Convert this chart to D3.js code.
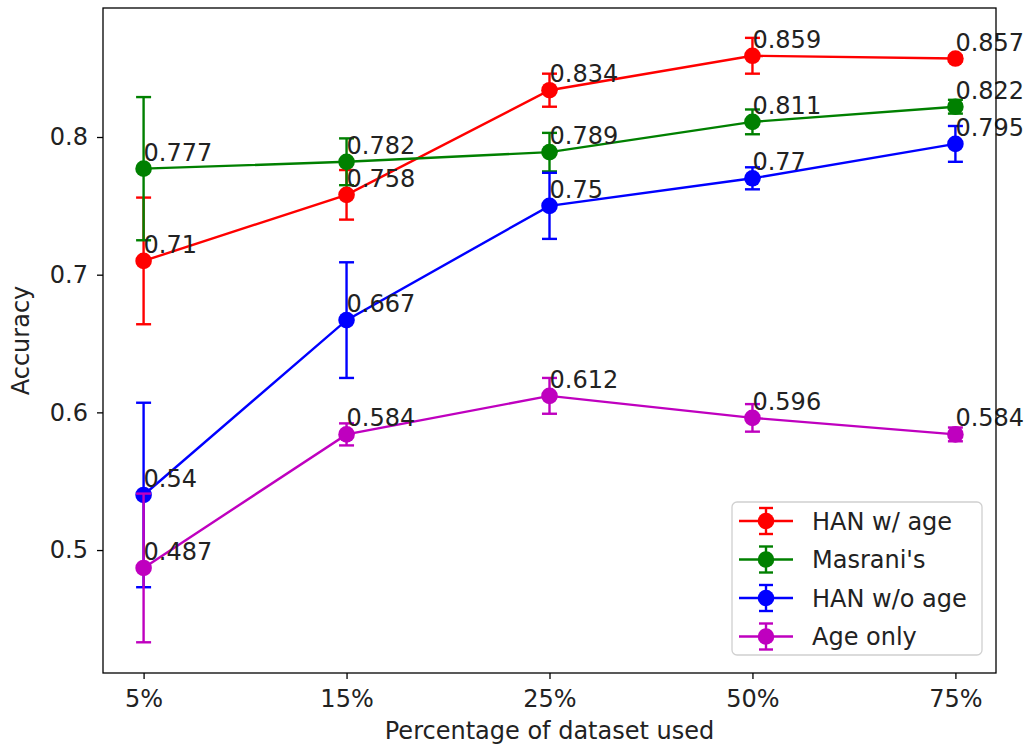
<!DOCTYPE html>
<html>
<head>
<meta charset="utf-8">
<script src="https://cdn.jsdelivr.net/npm/d3@7"></script>
<style>
  body { margin: 0; background: #fff; }
  svg { display: block; font-family: "DejaVu Sans", sans-serif; }
</style>
</head>
<body>
<svg id="chart" width="1026" height="747"></svg>
<script>
// data
const categories = ['5%', '15%', '25%', '50%', '75%'];

const hanAge = [0.71, 0.758, 0.834, 0.859, 0.857];
const hanAgeErr = [0.046, 0.018, 0.012, 0.013, 0.002];

const masrani = [0.777, 0.782, 0.789, 0.811, 0.822];
const masraniErr = [0.052, 0.017, 0.014, 0.009, 0.005];

const hanNoAge = [0.54, 0.667, 0.75, 0.77, 0.795];
const hanNoAgeErr = [0.067, 0.042, 0.024, 0.008, 0.013];

const ageOnly = [0.487, 0.584, 0.612, 0.596, 0.584];
const ageOnlyErr = [0.054, 0.008, 0.013, 0.01, 0.005];

const yTicks = [0.5, 0.6, 0.7, 0.8];

const series = [
  {name: 'HAN w/ age', vals: hanAge, err: hanAgeErr, color: '#ff0000'},
  {name: "Masrani's", vals: masrani, err: masraniErr, color: '#008000'},
  {name: 'HAN w/o age', vals: hanNoAge, err: hanNoAgeErr, color: '#0000ff'},
  {name: 'Age only', vals: ageOnly, err: ageOnlyErr, color: '#bf00bf'}
];

const svg = d3.select('#chart');
const m = {l: 103, r: 996, t: 8, b: 673};
const fs = 24;

const x = d3.scalePoint().domain(categories).range([m.l, m.r]).padding(0.2);
const y = d3.scaleLinear().domain([0.4107, 0.8937]).range([m.b, m.t]);

// axes
const xAxis = d3.axisBottom(x).tickSize(6).tickPadding(11);
const yAxis = d3.axisLeft(y).tickValues(yTicks).tickSize(6).tickPadding(9).tickFormat(d3.format('.1f'));

const gx = svg.append('g').attr('transform', `translate(0,${m.b})`).call(xAxis);
const gy = svg.append('g').attr('transform', `translate(${m.l},0)`).call(yAxis);
[gx, gy].forEach(g => {
  g.select('.domain').remove();
  g.selectAll('line').attr('stroke', '#000').attr('stroke-width', 1.3);
  g.selectAll('text').attr('font-size', fs).attr('fill', '#222').attr('font-family', '"DejaVu Sans", sans-serif');
});

const plot = svg.append('g');

// series: error bars, then line + markers
series.forEach(s => {
  const g = plot.append('g');
  s.vals.forEach((v, i) => {
    const cx = x(categories[i]);
    const y0 = y(v - s.err[i]), y1 = y(v + s.err[i]);
    g.append('line').attr('x1', cx).attr('x2', cx).attr('y1', y0).attr('y2', y1)
      .attr('stroke', s.color).attr('stroke-width', 2.4);
    [y0, y1].forEach(yy => g.append('line').attr('x1', cx - 7.5).attr('x2', cx + 7.5)
      .attr('y1', yy).attr('y2', yy).attr('stroke', s.color).attr('stroke-width', 2.4));
  });
  const line = d3.line().x((d, i) => x(categories[i])).y(d => y(d));
  g.append('path').datum(s.vals).attr('d', line).attr('fill', 'none')
    .attr('stroke', s.color).attr('stroke-width', 2.4);
  g.selectAll('circle').data(s.vals).join('circle')
    .attr('cx', (d, i) => x(categories[i])).attr('cy', d => y(d)).attr('r', 8.3)
    .attr('fill', s.color);
});

// value labels
series.forEach(s => {
  plot.append('g').selectAll('text').data(s.vals).join('text')
    .attr('x', (d, i) => x(categories[i])).attr('y', d => y(d) - 8)
    .attr('font-size', fs).attr('fill', '#222')
    .text(d => d);
});

// frame
svg.append('rect').attr('x', m.l).attr('y', m.t).attr('width', m.r - m.l).attr('height', m.b - m.t)
  .attr('fill', 'none').attr('stroke', '#000').attr('stroke-width', 1.3);

// axis titles
svg.append('text').attr('x', (m.l + m.r) / 2).attr('y', 739).attr('text-anchor', 'middle')
  .attr('font-size', fs).attr('fill', '#222').text('Percentage of dataset used');
svg.append('text').attr('transform', `translate(29,${(m.t + m.b) / 2}) rotate(-90)`)
  .attr('text-anchor', 'middle').attr('font-size', fs).attr('fill', '#222').text('Accuracy');

// legend
const lg = svg.append('g').attr('transform', 'translate(732,502)');
lg.append('rect').attr('width', 250).attr('height', 153).attr('rx', 5)
  .attr('fill', 'rgba(255,255,255,0.8)').attr('stroke', '#d0d0d0').attr('stroke-width', 1.3);
series.forEach((s, i) => {
  const yy = 19 + i * 38.5;
  const row = lg.append('g').attr('transform', `translate(0,${yy})`);
  row.append('line').attr('x1', 7).attr('x2', 61).attr('stroke', s.color).attr('stroke-width', 2.4);
  row.append('line').attr('x1', 34).attr('x2', 34).attr('y1', -13).attr('y2', 13).attr('stroke', s.color).attr('stroke-width', 2.4);
  [-13, 13].forEach(c => row.append('line').attr('x1', 27).attr('x2', 41).attr('y1', c).attr('y2', c)
    .attr('stroke', s.color).attr('stroke-width', 2.4));
  row.append('circle').attr('cx', 34).attr('r', 8.3).attr('fill', s.color);
  row.append('text').attr('x', 80).attr('y', 8.5).attr('font-size', fs).attr('fill', '#222').text(s.name);
});
</script>
</body>
</html>
